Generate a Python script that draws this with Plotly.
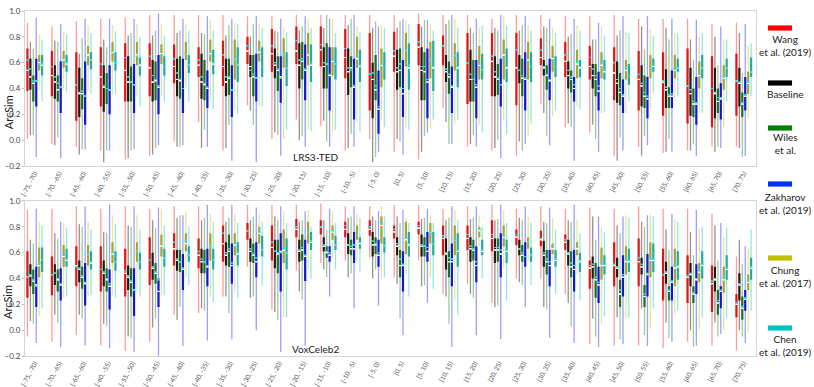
import plotly.graph_objects as go
from plotly.subplots import make_subplots

BINS = ["[-75, -70)", "[-70, -65)", "[-65, -60)", "[-60, -55)", "[-55, -50)",
        "[-50, -45)", "[-45, -40)", "[-40, -35)", "[-35, -30)", "[-30, -25)",
        "[-25, -20)", "[-20, -15)", "[-15, -10)", "[-10, -5)", "[-5, 0)",
        "[0, 5)", "[5, 10)", "[10, 15)", "[15, 20)", "[20, 25)",
        "[25, 30)", "[30, 35)", "[35, 40)", "[40, 45)", "[45, 50)",
        "[50, 55)", "[55, 60)", "[60, 65)", "[65, 70)", "[70, 75)"]

# each row: (lower whisker, q1, median, q3, upper whisker, mean)
TED_WANG = [
    (0.01, 0.38, 0.54, 0.71, 0.91, 0.62), (-0.03, 0.34, 0.50, 0.69, 0.88, 0.57),
    (-0.05, 0.15, 0.43, 0.68, 0.92, 0.43), (-0.08, 0.26, 0.49, 0.72, 0.94, 0.59),
    (-0.15, 0.30, 0.54, 0.75, 0.95, 0.64), (-0.12, 0.34, 0.56, 0.75, 0.97, 0.65),
    (-0.01, 0.44, 0.57, 0.74, 0.97, 0.63), (0.14, 0.49, 0.58, 0.72, 0.97, 0.62),
    (-0.08, 0.42, 0.57, 0.77, 0.97, 0.66), (0.27, 0.59, 0.69, 0.80, 0.96, 0.73),
    (0.01, 0.53, 0.67, 0.86, 0.96, 0.73), (0.16, 0.59, 0.69, 0.88, 0.97, 0.77),
    (0.11, 0.57, 0.70, 0.88, 0.97, 0.74), (-0.08, 0.48, 0.64, 0.86, 0.97, 0.71),
    (0.01, 0.23, 0.51, 0.83, 0.97, 0.51), (-0.09, 0.53, 0.65, 0.84, 0.97, 0.69),
    (-0.15, 0.58, 0.72, 0.90, 0.98, 0.76), (0.25, 0.58, 0.73, 0.81, 0.97, 0.73),
    (-0.05, 0.28, 0.60, 0.83, 0.97, 0.60), (-0.08, 0.34, 0.61, 0.83, 0.94, 0.65),
    (-0.12, 0.27, 0.56, 0.83, 0.97, 0.70), (0.28, 0.58, 0.64, 0.79, 0.97, 0.70),
    (0.10, 0.49, 0.61, 0.76, 0.96, 0.66), (0.06, 0.47, 0.57, 0.73, 0.96, 0.64),
    (-0.12, 0.31, 0.52, 0.72, 0.97, 0.60), (-0.05, 0.23, 0.47, 0.69, 0.94, 0.51),
    (-0.10, 0.19, 0.45, 0.68, 0.94, 0.46), (-0.08, 0.13, 0.42, 0.71, 0.94, 0.42),
    (-0.05, 0.10, 0.40, 0.65, 0.90, 0.40), (-0.05, 0.19, 0.46, 0.67, 0.91, 0.46),
]
TED_BASE = [
    (0.04, 0.39, 0.49, 0.63, 0.76, 0.55), (-0.04, 0.32, 0.45, 0.58, 0.77, 0.49),
    (-0.11, 0.18, 0.36, 0.56, 0.67, 0.37), (-0.17, 0.22, 0.41, 0.58, 0.78, 0.42),
    (-0.14, 0.30, 0.45, 0.65, 0.81, 0.49), (-0.11, 0.30, 0.45, 0.62, 0.81, 0.50),
    (-0.05, 0.34, 0.47, 0.63, 0.83, 0.52), (-0.06, 0.32, 0.45, 0.67, 0.83, 0.49),
    (-0.06, 0.34, 0.45, 0.63, 0.81, 0.49), (0.23, 0.49, 0.57, 0.66, 0.80, 0.54),
    (0.06, 0.48, 0.58, 0.71, 0.85, 0.60), (0.00, 0.40, 0.58, 0.75, 0.85, 0.62),
    (0.15, 0.40, 0.57, 0.72, 0.87, 0.60), (-0.06, 0.35, 0.53, 0.71, 0.89, 0.56),
    (-0.17, 0.17, 0.47, 0.60, 0.87, 0.52), (0.01, 0.39, 0.53, 0.70, 0.87, 0.56),
    (-0.09, 0.31, 0.54, 0.72, 0.88, 0.57), (0.14, 0.45, 0.53, 0.66, 0.90, 0.55),
    (-0.03, 0.30, 0.47, 0.70, 0.87, 0.51), (-0.06, 0.34, 0.49, 0.65, 0.87, 0.53),
    (-0.01, 0.44, 0.54, 0.66, 0.85, 0.54), (0.21, 0.50, 0.56, 0.62, 0.88, 0.57),
    (0.13, 0.40, 0.50, 0.61, 0.80, 0.54), (0.12, 0.40, 0.50, 0.59, 0.78, 0.55),
    (-0.16, 0.29, 0.44, 0.61, 0.81, 0.47), (-0.12, 0.26, 0.42, 0.58, 0.88, 0.44),
    (-0.09, 0.25, 0.39, 0.55, 0.87, 0.41), (-0.08, 0.19, 0.36, 0.56, 0.78, 0.39),
    (-0.09, 0.17, 0.36, 0.56, 0.80, 0.37), (-0.06, 0.26, 0.44, 0.56, 0.83, 0.45),
]
TED_WILES = [
    (0.04, 0.30, 0.44, 0.50, 0.71, 0.46), (0.02, 0.30, 0.39, 0.50, 0.76, 0.44),
    (-0.07, 0.24, 0.36, 0.48, 0.79, 0.38), (-0.08, 0.28, 0.40, 0.52, 0.72, 0.40),
    (-0.08, 0.30, 0.45, 0.57, 0.83, 0.45), (-0.06, 0.31, 0.46, 0.61, 0.85, 0.47),
    (-0.05, 0.32, 0.46, 0.65, 0.85, 0.47), (0.08, 0.31, 0.43, 0.62, 0.82, 0.44),
    (0.12, 0.35, 0.48, 0.63, 0.89, 0.49), (0.12, 0.34, 0.49, 0.66, 0.90, 0.51),
    (0.04, 0.38, 0.54, 0.65, 0.84, 0.55), (0.03, 0.47, 0.61, 0.76, 0.88, 0.63),
    (-0.01, 0.40, 0.59, 0.75, 0.97, 0.59), (0.05, 0.41, 0.56, 0.65, 0.94, 0.54),
    (-0.13, 0.31, 0.39, 0.66, 0.92, 0.42), (-0.01, 0.41, 0.54, 0.71, 0.92, 0.59),
    (0.03, 0.31, 0.53, 0.68, 0.93, 0.57), (-0.03, 0.36, 0.49, 0.61, 0.93, 0.51),
    (0.04, 0.30, 0.47, 0.62, 0.83, 0.47), (0.00, 0.35, 0.47, 0.59, 0.85, 0.48),
    (-0.08, 0.34, 0.48, 0.63, 0.89, 0.50), (0.03, 0.39, 0.50, 0.58, 0.87, 0.51),
    (0.10, 0.37, 0.47, 0.54, 0.82, 0.49), (0.01, 0.34, 0.47, 0.59, 0.78, 0.50),
    (0.02, 0.27, 0.37, 0.52, 0.85, 0.40), (0.03, 0.25, 0.34, 0.50, 0.70, 0.37),
    (0.01, 0.25, 0.34, 0.41, 0.78, 0.35), (-0.03, 0.18, 0.28, 0.40, 0.62, 0.30),
    (-0.05, 0.21, 0.30, 0.40, 0.58, 0.33), (-0.13, 0.18, 0.28, 0.37, 0.52, 0.29),
]
TED_ZAKH = [
    (-0.13, 0.26, 0.46, 0.63, 0.95, 0.46), (-0.14, 0.21, 0.41, 0.61, 0.90, 0.41),
    (-0.07, 0.12, 0.34, 0.61, 0.94, 0.34), (-0.08, 0.20, 0.39, 0.58, 0.94, 0.39),
    (-0.07, 0.21, 0.43, 0.59, 0.94, 0.43), (-0.04, 0.20, 0.41, 0.66, 0.98, 0.42),
    (-0.04, 0.21, 0.40, 0.63, 0.94, 0.40), (-0.05, 0.25, 0.40, 0.54, 0.96, 0.41),
    (-0.16, 0.18, 0.39, 0.58, 0.94, 0.39), (-0.17, 0.30, 0.48, 0.67, 0.96, 0.48),
    (-0.12, 0.29, 0.49, 0.65, 0.94, 0.48), (-0.05, 0.31, 0.54, 0.74, 0.96, 0.55),
    (-0.05, 0.23, 0.50, 0.72, 0.94, 0.51), (-0.05, 0.16, 0.41, 0.63, 0.97, 0.42),
    (-0.09, 0.05, 0.24, 0.54, 0.88, 0.26), (-0.11, 0.18, 0.36, 0.62, 0.94, 0.40),
    (0.06, 0.17, 0.45, 0.71, 0.93, 0.47), (-0.03, 0.21, 0.41, 0.57, 0.97, 0.42),
    (-0.05, 0.17, 0.41, 0.62, 0.94, 0.43), (-0.14, 0.26, 0.43, 0.63, 0.97, 0.43),
    (-0.03, 0.23, 0.47, 0.68, 0.96, 0.48), (-0.04, 0.31, 0.46, 0.63, 0.94, 0.47),
    (-0.16, 0.30, 0.40, 0.49, 0.94, 0.43), (-0.09, 0.23, 0.38, 0.53, 0.91, 0.42),
    (-0.08, 0.21, 0.34, 0.47, 0.96, 0.35), (-0.04, 0.17, 0.32, 0.49, 0.96, 0.34),
    (-0.09, 0.25, 0.34, 0.54, 0.94, 0.36), (-0.12, 0.12, 0.28, 0.49, 0.93, 0.29),
    (-0.06, 0.16, 0.32, 0.44, 0.88, 0.33), (-0.12, 0.23, 0.34, 0.49, 0.90, 0.35),
]
TED_CHUNG = [
    (0.39, 0.54, 0.60, 0.66, 0.82, 0.59), (0.39, 0.56, 0.62, 0.69, 0.84, 0.61),
    (0.38, 0.58, 0.66, 0.73, 0.89, 0.64), (0.35, 0.61, 0.68, 0.76, 0.89, 0.69),
    (0.34, 0.58, 0.66, 0.76, 0.90, 0.65), (0.34, 0.59, 0.67, 0.74, 0.90, 0.66),
    (0.41, 0.62, 0.67, 0.76, 0.90, 0.67), (0.31, 0.61, 0.67, 0.78, 0.93, 0.68),
    (0.23, 0.47, 0.63, 0.78, 0.91, 0.63), (0.27, 0.61, 0.68, 0.77, 0.90, 0.70),
    (0.01, 0.56, 0.67, 0.79, 0.87, 0.67), (0.08, 0.58, 0.66, 0.83, 0.94, 0.67),
    (0.06, 0.50, 0.61, 0.72, 0.94, 0.62), (0.14, 0.56, 0.63, 0.80, 0.88, 0.64),
    (0.15, 0.41, 0.58, 0.71, 0.89, 0.59), (0.10, 0.57, 0.70, 0.83, 0.93, 0.70),
    (0.09, 0.48, 0.62, 0.76, 0.90, 0.62), (0.13, 0.54, 0.65, 0.75, 0.94, 0.65),
    (0.12, 0.47, 0.58, 0.73, 0.87, 0.59), (0.15, 0.47, 0.66, 0.78, 0.96, 0.63),
    (0.03, 0.47, 0.62, 0.76, 0.89, 0.61), (0.19, 0.53, 0.63, 0.73, 0.87, 0.62),
    (0.26, 0.48, 0.59, 0.70, 0.89, 0.60), (0.21, 0.48, 0.58, 0.68, 0.88, 0.62),
    (0.21, 0.47, 0.54, 0.62, 0.84, 0.56), (0.25, 0.48, 0.56, 0.66, 0.86, 0.56),
    (0.31, 0.48, 0.54, 0.66, 0.83, 0.55), (0.21, 0.40, 0.50, 0.61, 0.80, 0.51),
    (0.10, 0.39, 0.48, 0.58, 0.78, 0.49), (0.17, 0.36, 0.44, 0.53, 0.73, 0.45),
]
TED_CHEN = [
    (0.30, 0.50, 0.58, 0.66, 0.78, 0.59), (0.37, 0.53, 0.59, 0.66, 0.82, 0.60),
    (0.36, 0.55, 0.62, 0.68, 0.83, 0.62), (0.36, 0.54, 0.60, 0.68, 0.84, 0.60),
    (0.26, 0.50, 0.58, 0.64, 0.80, 0.57), (0.30, 0.50, 0.57, 0.65, 0.81, 0.57),
    (0.30, 0.52, 0.58, 0.66, 0.85, 0.58), (0.24, 0.51, 0.59, 0.70, 0.85, 0.60),
    (0.20, 0.45, 0.58, 0.72, 0.90, 0.58), (0.26, 0.49, 0.57, 0.72, 0.87, 0.57),
    (0.08, 0.42, 0.56, 0.68, 0.84, 0.56), (0.07, 0.45, 0.58, 0.74, 0.87, 0.60),
    (0.08, 0.47, 0.59, 0.72, 0.83, 0.59), (0.07, 0.45, 0.57, 0.70, 0.84, 0.58),
    (0.10, 0.47, 0.57, 0.68, 0.87, 0.57), (0.08, 0.39, 0.56, 0.75, 0.90, 0.58),
    (0.16, 0.38, 0.56, 0.77, 0.85, 0.57), (0.16, 0.41, 0.56, 0.68, 0.87, 0.57),
    (0.06, 0.47, 0.54, 0.67, 0.89, 0.54), (0.04, 0.45, 0.56, 0.71, 0.89, 0.57),
    (0.13, 0.45, 0.57, 0.68, 0.85, 0.57), (0.23, 0.49, 0.57, 0.65, 0.83, 0.57),
    (0.24, 0.49, 0.56, 0.62, 0.85, 0.57), (0.22, 0.47, 0.53, 0.62, 0.81, 0.55),
    (0.30, 0.43, 0.50, 0.59, 0.83, 0.50), (0.37, 0.53, 0.57, 0.63, 0.81, 0.58),
    (0.34, 0.53, 0.56, 0.63, 0.83, 0.56), (0.21, 0.48, 0.56, 0.66, 0.83, 0.56),
    (0.30, 0.49, 0.56, 0.63, 0.78, 0.56), (0.34, 0.49, 0.53, 0.64, 0.75, 0.53),
]

VOX_WANG = [
    (-0.05, 0.25, 0.41, 0.61, 0.93, 0.41), (-0.09, 0.27, 0.43, 0.57, 0.94, 0.43),
    (-0.04, 0.34, 0.50, 0.65, 0.96, 0.49), (-0.12, 0.30, 0.47, 0.65, 0.94, 0.47),
    (-0.16, 0.26, 0.44, 0.63, 0.96, 0.46), (-0.09, 0.35, 0.54, 0.72, 0.94, 0.54),
    (0.12, 0.50, 0.63, 0.75, 0.96, 0.68), (0.13, 0.48, 0.58, 0.71, 0.96, 0.61),
    (0.26, 0.53, 0.67, 0.81, 0.96, 0.75), (0.49, 0.70, 0.77, 0.83, 0.97, 0.77),
    (0.16, 0.54, 0.64, 0.81, 0.97, 0.68), (0.46, 0.72, 0.78, 0.86, 0.97, 0.80),
    (0.52, 0.74, 0.80, 0.85, 0.98, 0.80), (0.54, 0.72, 0.78, 0.84, 0.96, 0.81),
    (0.56, 0.73, 0.78, 0.85, 0.96, 0.80), (0.41, 0.71, 0.76, 0.81, 0.97, 0.78),
    (0.54, 0.74, 0.79, 0.84, 0.97, 0.81), (0.28, 0.58, 0.71, 0.81, 0.94, 0.73),
    (0.36, 0.62, 0.71, 0.81, 0.96, 0.74), (0.21, 0.61, 0.71, 0.85, 0.97, 0.74),
    (0.40, 0.66, 0.72, 0.78, 0.94, 0.74), (0.40, 0.65, 0.70, 0.77, 0.96, 0.71),
    (0.28, 0.62, 0.68, 0.74, 0.94, 0.70), (-0.11, 0.32, 0.48, 0.54, 0.95, 0.50),
    (-0.12, 0.34, 0.50, 0.68, 0.94, 0.51), (-0.12, 0.34, 0.53, 0.71, 0.96, 0.56),
    (-0.14, 0.23, 0.43, 0.63, 0.94, 0.43), (-0.09, 0.21, 0.41, 0.58, 0.94, 0.42),
    (-0.12, 0.14, 0.36, 0.50, 0.90, 0.38), (-0.16, 0.10, 0.20, 0.28, 0.57, 0.21),
]
VOX_BASE = [
    (0.07, 0.34, 0.42, 0.51, 0.70, 0.43), (0.12, 0.35, 0.44, 0.51, 0.75, 0.44),
    (0.12, 0.37, 0.47, 0.54, 0.82, 0.48), (0.05, 0.34, 0.44, 0.54, 0.76, 0.45),
    (-0.05, 0.31, 0.41, 0.50, 0.81, 0.42), (0.02, 0.39, 0.48, 0.60, 0.85, 0.49),
    (0.08, 0.46, 0.54, 0.62, 0.87, 0.55), (0.17, 0.44, 0.53, 0.63, 0.85, 0.55),
    (0.26, 0.50, 0.58, 0.68, 0.84, 0.60), (0.25, 0.53, 0.61, 0.71, 0.85, 0.63),
    (0.14, 0.48, 0.61, 0.70, 0.88, 0.61), (0.30, 0.53, 0.61, 0.70, 0.84, 0.62),
    (0.47, 0.61, 0.65, 0.72, 0.85, 0.66), (0.41, 0.59, 0.66, 0.75, 0.87, 0.66),
    (0.40, 0.57, 0.66, 0.76, 0.88, 0.69), (0.36, 0.58, 0.65, 0.72, 0.88, 0.67),
    (0.34, 0.57, 0.65, 0.74, 0.86, 0.66), (0.26, 0.47, 0.59, 0.71, 0.85, 0.60),
    (0.28, 0.53, 0.63, 0.72, 0.86, 0.65), (0.18, 0.52, 0.62, 0.71, 0.85, 0.64),
    (0.37, 0.58, 0.63, 0.70, 0.87, 0.63), (0.18, 0.49, 0.58, 0.69, 0.84, 0.60),
    (0.21, 0.50, 0.59, 0.70, 0.85, 0.60), (0.09, 0.40, 0.49, 0.57, 0.88, 0.51),
    (0.10, 0.41, 0.48, 0.56, 0.81, 0.49), (0.17, 0.43, 0.49, 0.56, 0.84, 0.51),
    (0.06, 0.36, 0.44, 0.53, 0.78, 0.45), (0.00, 0.34, 0.43, 0.52, 0.76, 0.44),
    (0.06, 0.30, 0.39, 0.49, 0.81, 0.40), (0.00, 0.23, 0.35, 0.44, 0.70, 0.36),
]
VOX_WILES = [
    (0.05, 0.28, 0.38, 0.47, 0.67, 0.39), (0.06, 0.30, 0.39, 0.47, 0.71, 0.40),
    (0.09, 0.32, 0.41, 0.49, 0.80, 0.42), (0.03, 0.30, 0.39, 0.48, 0.75, 0.40),
    (-0.06, 0.26, 0.37, 0.48, 0.80, 0.38), (0.09, 0.36, 0.44, 0.52, 0.79, 0.45),
    (0.18, 0.45, 0.53, 0.62, 0.89, 0.53), (0.15, 0.44, 0.53, 0.62, 0.87, 0.53),
    (0.13, 0.49, 0.61, 0.74, 0.87, 0.63), (0.26, 0.52, 0.58, 0.67, 0.88, 0.59),
    (0.08, 0.44, 0.59, 0.70, 0.85, 0.60), (0.24, 0.54, 0.62, 0.74, 0.85, 0.64),
    (0.41, 0.56, 0.60, 0.65, 0.78, 0.61), (0.44, 0.58, 0.63, 0.70, 0.88, 0.65),
    (0.47, 0.59, 0.66, 0.72, 0.85, 0.67), (0.09, 0.41, 0.50, 0.62, 0.83, 0.55),
    (0.35, 0.57, 0.65, 0.72, 0.87, 0.65), (0.05, 0.41, 0.53, 0.61, 0.87, 0.56),
    (0.25, 0.54, 0.62, 0.70, 0.87, 0.63), (0.19, 0.53, 0.62, 0.71, 0.86, 0.64),
    (0.35, 0.53, 0.58, 0.66, 0.85, 0.60), (0.16, 0.43, 0.53, 0.62, 0.83, 0.55),
    (0.03, 0.41, 0.49, 0.61, 0.84, 0.52), (-0.05, 0.25, 0.39, 0.52, 0.70, 0.41),
    (-0.07, 0.18, 0.28, 0.39, 0.75, 0.31), (-0.04, 0.18, 0.26, 0.35, 0.80, 0.28),
    (-0.06, 0.23, 0.30, 0.34, 0.62, 0.31), (-0.13, 0.21, 0.28, 0.34, 0.58, 0.29),
    (-0.05, 0.12, 0.21, 0.31, 0.54, 0.23), (-0.05, 0.08, 0.17, 0.26, 0.51, 0.18),
]
VOX_ZAKH = [
    (-0.10, 0.18, 0.35, 0.49, 0.94, 0.34), (-0.13, 0.23, 0.35, 0.48, 0.84, 0.36),
    (-0.12, 0.19, 0.36, 0.52, 0.96, 0.37), (-0.14, 0.16, 0.34, 0.47, 0.97, 0.36),
    (-0.17, 0.11, 0.31, 0.48, 0.96, 0.31), (-0.20, 0.18, 0.30, 0.40, 0.95, 0.39),
    (-0.12, 0.31, 0.47, 0.59, 0.89, 0.48), (-0.08, 0.34, 0.49, 0.63, 0.97, 0.50),
    (-0.07, 0.36, 0.50, 0.67, 0.97, 0.52), (0.00, 0.41, 0.53, 0.68, 0.95, 0.56),
    (-0.17, 0.30, 0.61, 0.75, 0.96, 0.60), (-0.12, 0.38, 0.57, 0.70, 0.92, 0.58),
    (0.26, 0.53, 0.58, 0.65, 0.94, 0.60), (0.17, 0.52, 0.63, 0.76, 0.96, 0.66),
    (0.19, 0.49, 0.58, 0.70, 0.92, 0.60), (-0.04, 0.30, 0.50, 0.61, 0.93, 0.51),
    (0.21, 0.53, 0.61, 0.76, 0.94, 0.64), (-0.13, 0.34, 0.53, 0.67, 0.96, 0.55),
    (-0.04, 0.37, 0.50, 0.65, 0.96, 0.53), (-0.07, 0.41, 0.59, 0.75, 0.97, 0.62),
    (0.18, 0.49, 0.57, 0.68, 0.96, 0.57), (-0.06, 0.34, 0.50, 0.62, 0.95, 0.53),
    (-0.10, 0.30, 0.47, 0.62, 0.97, 0.50), (-0.13, 0.21, 0.35, 0.49, 0.88, 0.37),
    (-0.11, 0.26, 0.41, 0.58, 0.88, 0.43), (-0.12, 0.26, 0.43, 0.59, 0.89, 0.44),
    (-0.09, 0.23, 0.37, 0.49, 0.90, 0.38), (-0.12, 0.28, 0.39, 0.51, 0.93, 0.40),
    (-0.03, 0.17, 0.30, 0.34, 0.83, 0.31), (-0.10, 0.15, 0.24, 0.31, 0.65, 0.25),
]
VOX_CHUNG = [
    (0.11, 0.41, 0.50, 0.64, 0.84, 0.52), (0.25, 0.49, 0.57, 0.66, 0.83, 0.58),
    (0.26, 0.50, 0.58, 0.66, 0.84, 0.58), (0.27, 0.52, 0.59, 0.68, 0.89, 0.60),
    (0.30, 0.53, 0.61, 0.68, 0.89, 0.61), (0.26, 0.57, 0.65, 0.74, 0.94, 0.64),
    (0.41, 0.61, 0.67, 0.75, 0.92, 0.69), (0.26, 0.54, 0.65, 0.75, 0.90, 0.65),
    (0.30, 0.58, 0.66, 0.75, 0.90, 0.67), (0.56, 0.67, 0.75, 0.80, 0.90, 0.76),
    (0.10, 0.52, 0.62, 0.78, 0.92, 0.63), (0.47, 0.67, 0.76, 0.84, 0.93, 0.76),
    (0.56, 0.70, 0.76, 0.81, 0.92, 0.77), (0.53, 0.70, 0.74, 0.81, 0.90, 0.74),
    (0.40, 0.67, 0.81, 0.88, 0.96, 0.83), (0.44, 0.59, 0.70, 0.84, 0.87, 0.71),
    (0.41, 0.67, 0.75, 0.83, 0.89, 0.75), (0.23, 0.58, 0.70, 0.81, 0.93, 0.70),
    (0.65, 0.72, 0.77, 0.80, 0.89, 0.78), (0.48, 0.65, 0.72, 0.81, 0.93, 0.73),
    (0.53, 0.63, 0.68, 0.72, 0.88, 0.68), (0.53, 0.59, 0.63, 0.67, 0.87, 0.65),
    (0.43, 0.58, 0.63, 0.68, 0.85, 0.64), (0.05, 0.39, 0.50, 0.64, 0.80, 0.52),
    (0.09, 0.43, 0.53, 0.65, 0.89, 0.55), (0.01, 0.41, 0.54, 0.68, 0.90, 0.55),
    (0.12, 0.34, 0.48, 0.63, 0.85, 0.50), (0.00, 0.37, 0.45, 0.52, 0.79, 0.46),
    (0.00, 0.29, 0.39, 0.49, 0.72, 0.41), (-0.01, 0.31, 0.37, 0.43, 0.63, 0.38),
]
VOX_CHEN = [
    (0.17, 0.45, 0.54, 0.64, 0.81, 0.54), (0.26, 0.49, 0.54, 0.63, 0.79, 0.55),
    (0.27, 0.47, 0.52, 0.61, 0.78, 0.53), (0.25, 0.46, 0.53, 0.61, 0.82, 0.53),
    (0.26, 0.47, 0.53, 0.60, 0.78, 0.53), (0.27, 0.49, 0.56, 0.63, 0.81, 0.56),
    (0.35, 0.53, 0.58, 0.65, 0.80, 0.58), (0.22, 0.47, 0.54, 0.63, 0.84, 0.54),
    (0.25, 0.50, 0.59, 0.68, 0.83, 0.60), (0.35, 0.57, 0.62, 0.73, 0.84, 0.62),
    (0.10, 0.47, 0.60, 0.71, 0.83, 0.60), (0.40, 0.62, 0.68, 0.76, 0.80, 0.69),
    (0.47, 0.62, 0.66, 0.73, 0.83, 0.66), (0.45, 0.63, 0.67, 0.72, 0.87, 0.68),
    (0.41, 0.60, 0.65, 0.72, 0.88, 0.65), (0.26, 0.57, 0.66, 0.76, 0.83, 0.67),
    (0.32, 0.58, 0.67, 0.76, 0.83, 0.67), (0.12, 0.49, 0.61, 0.75, 0.85, 0.62),
    (0.40, 0.58, 0.61, 0.70, 0.80, 0.62), (0.23, 0.52, 0.61, 0.70, 0.83, 0.62),
    (0.35, 0.53, 0.58, 0.64, 0.83, 0.58), (0.28, 0.49, 0.54, 0.62, 0.78, 0.55),
    (0.23, 0.45, 0.53, 0.60, 0.75, 0.54), (0.11, 0.43, 0.50, 0.58, 0.76, 0.51),
    (0.10, 0.45, 0.53, 0.63, 0.87, 0.54), (0.17, 0.45, 0.54, 0.67, 0.88, 0.55),
    (0.15, 0.39, 0.49, 0.61, 0.84, 0.50), (0.10, 0.40, 0.50, 0.61, 0.80, 0.51),
    (0.10, 0.39, 0.47, 0.58, 0.79, 0.48), (0.15, 0.39, 0.48, 0.56, 0.78, 0.49),
]

METHODS = ["Wang<br>et al. (2019)", "Baseline", "Wiles<br>et al.",
           "Zakharov<br>et al. (2019)", "Chung<br>et al. (2017)", "Chen<br>et al. (2019)"]

# box colour, whisker colour, legend swatch colour
STYLES = [
    ("#e01414", "rgba(255,60,60,0.5)", "#ff0000"),
    ("#1c1c1c", "rgba(40,40,40,0.5)", "#000000"),
    ("#1f6e1f", "rgba(30,140,30,0.45)", "#008000"),
    ("#1414d8", "rgba(40,40,255,0.45)", "#0033ff"),
    ("#a9a622", "rgba(200,200,20,0.45)", "#c0c000"),
    ("#22a9a9", "rgba(20,200,200,0.45)", "#00c0c0"),
]
MEAN_COLOR = "#2ee0e0"

PANELS = [
    [TED_WANG, TED_BASE, TED_WILES, TED_ZAKH, TED_CHUNG, TED_CHEN],
    [VOX_WANG, VOX_BASE, VOX_WILES, VOX_ZAKH, VOX_CHUNG, VOX_CHEN],
]

FONT = "Lato"

fig = make_subplots(rows=2, cols=1)


def flat_box(values, color, group):
    return go.Box(x=BINS, q1=values, median=values, q3=values,
                  lowerfence=values, upperfence=values,
                  line=dict(color=color, width=1), fillcolor=color,
                  whiskerwidth=0, offsetgroup=group, showlegend=False,
                  hoverinfo="skip")


for row, panel in enumerate(PANELS, start=1):
    for i, rows in enumerate(panel):
        lo, q1, med, q3, hi, mean = [list(c) for c in zip(*rows)]
        box_col, whisk_col, _ = STYLES[i]
        grp = "s%d" % i
        # whiskers (light, thin)
        fig.add_trace(go.Box(x=BINS, q1=med, median=med, q3=med,
                             lowerfence=lo, upperfence=hi,
                             line=dict(color=whisk_col, width=1.3),
                             fillcolor="rgba(0,0,0,0)", whiskerwidth=0,
                             offsetgroup=grp, showlegend=False, hoverinfo="skip"),
                      row=row, col=1)
        # interquartile box
        fig.add_trace(go.Box(x=BINS, q1=q1, median=med, q3=q3,
                             lowerfence=q1, upperfence=q3,
                             line=dict(color=box_col, width=0), fillcolor=box_col,
                             whiskerwidth=0, offsetgroup=grp, showlegend=False,
                             hoverinfo="skip"),
                      row=row, col=1)
        fig.add_trace(flat_box(med, "white", grp), row=row, col=1)
        fig.add_trace(flat_box(mean, MEAN_COLOR, grp), row=row, col=1)

axis_common = dict(showline=True, mirror=True, linecolor="#d4d4d4", linewidth=1,
                   showgrid=False, zeroline=False, automargin=False)
for r in (1, 2):
    fig.update_xaxes(type="category", range=[-0.4, 29.5], tickangle=-62,
                     tickfont=dict(size=6.5, color="#555555", family=FONT),
                     ticks="", row=r, col=1, **axis_common)
    fig.update_yaxes(range=[-0.2, 1.0], dtick=0.2, tickformat=".1f",
                     ticks="outside", ticklen=2, tickcolor="#bbbbbb",
                     tickfont=dict(size=8, color="#444444", family=FONT),
                     row=r, col=1, **axis_common)

fig.update_layout(
    yaxis=dict(domain=[0.5507, 1.0]),
    yaxis2=dict(domain=[0.0, 0.4493]),
    boxmode="group", boxgap=0.28, boxgroupgap=0.25,
    width=814, height=387,
    margin=dict(l=25, r=58, t=11, b=31),
    paper_bgcolor="white", plot_bgcolor="white",
    font=dict(family=FONT, color="#222222"),
)


def note(text, x, y, size, **kw):
    fig.add_annotation(text=text, xref="paper", yref="paper", x=x, y=y,
                       xanchor="center", yanchor="middle", showarrow=False,
                       font=dict(size=size, color="#222222"), **kw)


# y titles and panel labels
for y in (0.707, 0.157):
    note("ArcSim", -0.023, y, 11, textangle=-90)
note("LRS3-TED", 0.398, 0.577, 10)
note("VoxCeleb2", 0.397, 0.020, 10)

# legend: swatch above a centred label
SWATCH_Y = [28, 83, 128, 184, 258, 328]
LABEL_Y = [45.5, 94, 144, 203, 276, 345.5]
for i, name in enumerate(METHODS):
    sy = (356 - SWATCH_Y[i]) / 345
    fig.add_shape(type="rect", xref="paper", yref="paper",
                  x0=1.0164, x1=1.0493, y0=sy - 0.0075, y1=sy + 0.0075,
                  fillcolor=STYLES[i][2], line=dict(width=0))
    note(name, 1.0397, (356 - LABEL_Y[i]) / 345, 10, align="center")

fig.write_html("out.html", config={"displayModeBar": False},
               post_script="document.body.style.margin='0';")
